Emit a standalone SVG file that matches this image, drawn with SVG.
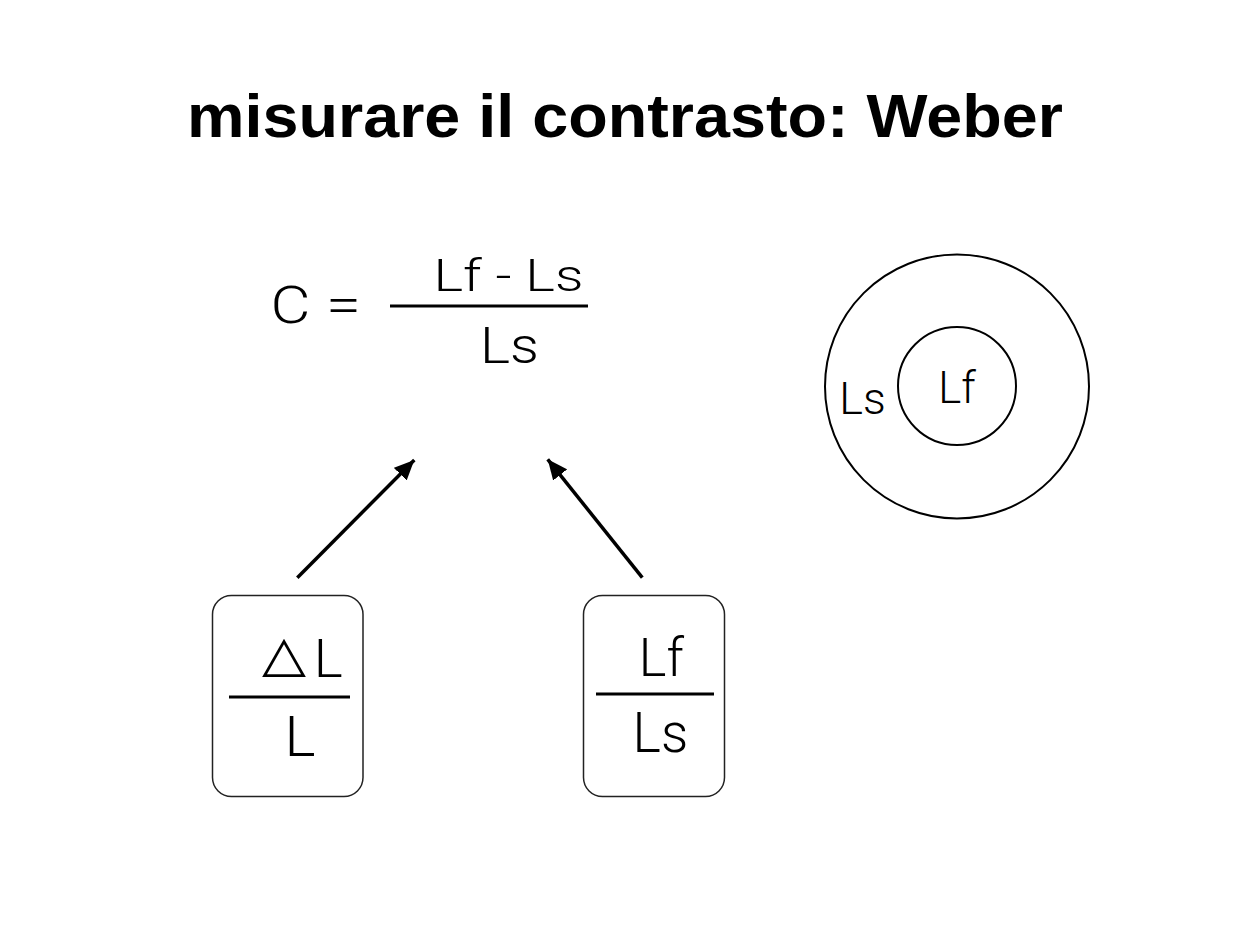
<svg xmlns="http://www.w3.org/2000/svg" width="1255" height="937" viewBox="0 0 1255 937">
<style>
.lt{font-family:Roboto,"Liberation Sans",sans-serif;font-weight:300;fill:#000}
.tri{font-family:"DejaVu Sans",sans-serif;fill:#000}
.title{font-family:"Liberation Sans",Arial,sans-serif;font-weight:bold;font-size:62px;fill:#000}
.box{fill:#fff;stroke:#222;stroke-width:1.5}
.bar{stroke:#000;stroke-width:3}
.circ{fill:none;stroke:#000;stroke-width:2}
.conn{stroke:#000;stroke-width:3.5;fill:none}
</style>
<defs>
<marker id="ah" markerUnits="userSpaceOnUse" markerWidth="22" markerHeight="18" refX="20" refY="9" orient="auto">
<path d="M0,0 L20,9 L0,18 Z" fill="#000"/>
</marker>
</defs>
<rect width="1255" height="937" fill="#fff"/>
<g id="title"><text class="title" x="625" y="137" text-anchor="middle" textLength="876" lengthAdjust="spacingAndGlyphs">misurare il contrasto: Weber</text></g>
<g id="formula">
<text class="lt" x="270.5" y="323" font-size="51" textLength="40" lengthAdjust="spacingAndGlyphs">C</text>
<text class="lt" x="326" y="323" font-size="51" textLength="35" lengthAdjust="spacingAndGlyphs">=</text>
<text class="lt" x="433.4" y="291" font-size="43.5" textLength="150" lengthAdjust="spacingAndGlyphs">Lf - Ls</text>
<line class="bar" x1="390" y1="306" x2="588" y2="306"/>
<text class="lt" x="480" y="363" font-size="50" textLength="59" lengthAdjust="spacingAndGlyphs">Ls</text>
</g>
<g id="circles">
<circle class="circ" cx="957" cy="386.5" r="132"/>
<circle class="circ" cx="957" cy="386" r="59"/>
<text class="lt" x="839.3" y="414" font-size="45" textLength="46.5" lengthAdjust="spacingAndGlyphs">Ls</text>
<text class="lt" x="938.3" y="403" font-size="44.5" textLength="37.5" lengthAdjust="spacingAndGlyphs">Lf</text>
</g>
<g id="node-delta">
<rect class="box" x="212.5" y="595.5" width="150.5" height="201" rx="19"/>
<text x="262" y="670.7"><tspan class="tri" font-size="50" textLength="44" lengthAdjust="spacingAndGlyphs">△</tspan><tspan class="lt" x="313.8" y="677" font-size="53.5" textLength="29" lengthAdjust="spacingAndGlyphs">L</tspan></text>
<line class="bar" x1="229" y1="697" x2="350" y2="697"/>
<text class="lt" x="284.6" y="756" font-size="56" textLength="31" lengthAdjust="spacingAndGlyphs">L</text>
</g>
<g id="node-ratio">
<rect class="box" x="583.5" y="595.5" width="141" height="201" rx="19"/>
<text class="lt" x="638.8" y="676" font-size="53.5" textLength="45" lengthAdjust="spacingAndGlyphs">Lf</text>
<line class="bar" x1="596" y1="694" x2="714" y2="694" stroke-width="4"/>
<text class="lt" x="632.6" y="752" font-size="56" textLength="55.6" lengthAdjust="spacingAndGlyphs">Ls</text>
</g>
<g id="connectors">
<line class="conn" x1="297.3" y1="577.7" x2="414.3" y2="460" marker-end="url(#ah)"/>
<line class="conn" x1="642.3" y1="577.7" x2="547.7" y2="459.3" marker-end="url(#ah)"/>
</g>
</svg>
